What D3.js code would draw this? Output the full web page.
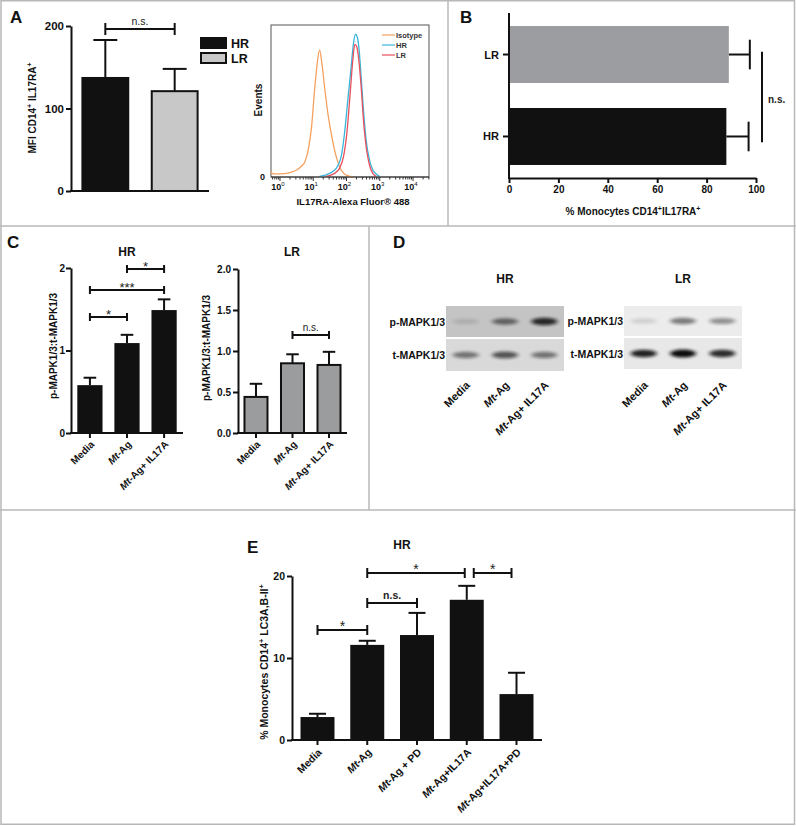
<!DOCTYPE html>
<html><head><meta charset="utf-8">
<script src="https://cdn.jsdelivr.net/npm/d3@7"></script>
<style>body{margin:0;background:#fff}svg{display:block}text{font-family:"Liberation Sans",Arial,sans-serif}</style>
</head><body>
<svg id="c" width="796" height="826"></svg>
<script>
// ---------------- DATA ----------------
// Panel A: MFI CD14+ IL17RA+
const aGroups = ["HR", "LR"];
const aMean = [137, 121];
const aErrTop = [183, 148];
const aTicks = [0, 100, 200];
// Panel A histogram (log10 fluorescence, % of max events)
const histTicks = [0, 1, 2, 3, 4];
const isoL = [-0.28,-0.2,0,0.3,0.5,0.65,0.75,0.85,0.95,1.04,1.12,1.19,1.26,1.34,1.44,1.54,1.64,1.79,1.99,2.19];
const isoC = [3.5,2.0,2.0,2.9,4.6,7.2,10.1,17.8,33.1,57.2,74.8,83.6,74.8,59.4,41.9,28.7,17.8,6.8,1.3,0];
const hrL = [1.19,1.49,1.69,1.84,1.94,2.04,2.14,2.21,2.27,2.32,2.37,2.44,2.51,2.59,2.69,2.79,2.89,2.99];
const hrC = [0.4,2.4,5.7,13.4,28.7,50.7,72.6,88.0,93.9,92.3,85.7,66.0,44.1,24.3,11.2,4.6,2.0,0.4];
const lrL = [1.39,1.64,1.79,1.91,2.01,2.11,2.19,2.25,2.31,2.37,2.44,2.51,2.59,2.69,2.79,2.89];
const lrC = [0.4,2.4,5.7,13.4,28.7,55.0,77.0,87.3,85.7,77.0,59.4,37.5,19.9,7.9,2.4,0.4];
const histSeries = ["Isotype", "HR", "LR"];
// Panel B: % Monocytes CD14+IL17RA+
const bGroups = ["LR", "HR"];
const bMean = [89, 88];
const bErrTop = [97.5, 97];
const bTicks = [0, 20, 40, 60, 80, 100];
// Panel C: p-MAPK1/3 : t-MAPK1/3
const cCats = ["Media", "Mt-Ag", "Mt-Ag+ IL17A"];
const cHRMean = [0.58, 1.09, 1.49];
const cHRErr = [0.67, 1.19, 1.62];
const cHRTicks = [0, 1, 2];
const cLRMean = [0.44, 0.85, 0.83];
const cLRErr = [0.60, 0.96, 0.99];
const cLRTicks = [0, 0.5, 1.0, 1.5, 2.0];
// Panel D: western blot band intensities (0-1)
const dLanes = ["Media", "Mt-Ag", "Mt-Ag+ IL17A"];
const dHRp = [0.12, 0.55, 0.85];
const dHRt = [0.5, 0.65, 0.5];
const dLRp = [0.12, 0.5, 0.4];
const dLRt = [0.9, 1.0, 0.85];
// Panel E: % Monocytes CD14+ LC3A,B-II+
const eCats = ["Media", "Mt-Ag", "Mt-Ag + PD", "Mt-Ag+IL17A", "Mt-Ag+IL17A+PD"];
const eMean = [2.8, 11.6, 12.8, 17.1, 5.6];
const eErr = [3.2, 12.1, 15.5, 18.8, 8.2];
const eTicks = [0, 10, 20];

// ---------------- DRAW ----------------
const svg = d3.select("#c");
const INK = "#111";

// frame lines
const fr = svg.append("g").attr("stroke", "#b8b8b8").attr("stroke-width", 1.5).attr("fill", "none");
fr.append("rect").attr("x", 1).attr("y", 0.75).attr("width", 793.5).attr("height", 823.5);
[[448,0,448,226],[0,226,796,226],[369,226,369,510],[0,510,796,510]].forEach(l =>
  fr.append("line").attr("x1", l[0]).attr("y1", l[1]).attr("x2", l[2]).attr("y2", l[3]));

function txt(x, y, s, size, weight, anchor) {
  return svg.append("text").attr("x", x).attr("y", y).text(s)
    .attr("font-size", size).attr("font-weight", weight || "bold")
    .attr("text-anchor", anchor || "start").attr("fill", INK);
}
// panel letters
[["A",10,23],["B",460,23],["C",7,248],["D",393,248],["E",247,553]].forEach(p => txt(p[1], p[2], p[0], 17, "bold"));

function mtLabel(t, label) {
  if (label.startsWith("Mt")) {
    t.append("tspan").attr("font-style", "italic").text("Mt");
    t.append("tspan").text(label.slice(2));
  } else t.text(label);
}
function styleAxis(sel, fs) {
  sel.select(".domain").attr("stroke", INK).attr("stroke-width", 2);
  sel.selectAll(".tick line").attr("stroke", INK).attr("stroke-width", 2);
  sel.selectAll(".tick text").attr("font-size", fs).attr("font-weight", "bold").attr("fill", INK)
    .attr("font-family", '"Liberation Sans", Arial, sans-serif');
}
function supLabel(g, parts, size) {
  const t = g.append("text").attr("font-size", size).attr("font-weight", "bold").attr("fill", INK).attr("text-anchor", "middle");
  let up = false;
  parts.forEach(p => {
    const ts = t.append("tspan").text(p[0]);
    if (p[1] && !up) { ts.attr("dy", -size * 0.4).attr("font-size", size * 0.7); up = true; }
    else if (p[1]) { ts.attr("font-size", size * 0.7); }
    else if (!p[1] && up) { ts.attr("dy", size * 0.4); up = false; }
  });
  return t;
}

function vbars(o) {
  const g = svg.append("g");
  const x = d3.scaleBand().domain(o.cats).range(o.xr).paddingInner(o.pi).paddingOuter(o.po);
  const y = d3.scaleLinear().domain(o.yd).range(o.yr);
  const bw = x.bandwidth();
  o.cats.forEach((c, i) => {
    const cx = x(c) + bw / 2;
    g.append("line").attr("x1", cx).attr("x2", cx).attr("y1", y(o.mean[i])).attr("y2", y(o.err[i]))
      .attr("stroke", INK).attr("stroke-width", 2);
    g.append("line").attr("x1", cx - bw * 0.25).attr("x2", cx + bw * 0.25).attr("y1", y(o.err[i])).attr("y2", y(o.err[i]))
      .attr("stroke", INK).attr("stroke-width", 2);
  });
  g.selectAll(null).data(o.cats).join("rect")
    .attr("x", d => x(d) + (o.stroke ? 1 : 0)).attr("width", bw - (o.stroke ? 2 : 0))
    .attr("y", (d, i) => y(o.mean[i])).attr("height", (d, i) => y(0) - y(o.mean[i]))
    .attr("fill", (d, i) => o.fill[i]).attr("stroke", o.stroke ? INK : "none").attr("stroke-width", 2);
  const ya = g.append("g").attr("transform", `translate(${o.xr[0]},0)`)
    .call(d3.axisLeft(y).tickValues(o.ticks).tickFormat(o.fmt || d3.format("d")).tickSize(5).tickSizeOuter(0).tickPadding(o.tp != null ? o.tp : 2));
  styleAxis(ya, o.tfs || 10.5);
  g.append("line").attr("x1", o.xr[0] - 1).attr("x2", o.xr[1]).attr("y1", y(0)).attr("y2", y(0))
    .attr("stroke", INK).attr("stroke-width", 2);
  if (o.xticks) o.cats.forEach(c => {
    const cx = x(c) + bw / 2;
    g.append("line").attr("x1", cx).attr("x2", cx).attr("y1", y(0)).attr("y2", y(0) + 5).attr("stroke", INK).attr("stroke-width", 2);
  });
  if (o.xlabels) o.cats.forEach(c => {
    const cx = x(c) + bw / 2;
    const t = g.append("text").attr("text-anchor", "end").attr("font-size", o.xfs || 10).attr("font-weight", "bold").attr("fill", INK)
      .attr("transform", `translate(${cx + o.xlo[0]},${y(0) + o.xlo[1]}) rotate(-45)`);
    mtLabel(t, c);
  });
  return { g, x, y, bw };
}
function bracket(g, x1, x2, yy, cap, label, fs, weight, dy) {
  g.append("line").attr("x1", x1).attr("x2", x2).attr("y1", yy).attr("y2", yy).attr("stroke", INK).attr("stroke-width", 2);
  [x1, x2].forEach(xx => g.append("line").attr("x1", xx).attr("x2", xx).attr("y1", yy - cap).attr("y2", yy + cap).attr("stroke", INK).attr("stroke-width", 2));
  g.append("text").attr("x", (x1 + x2) / 2).attr("y", yy + dy).attr("text-anchor", "middle")
    .attr("font-size", fs).attr("font-weight", weight).attr("fill", "#222").text(label);
}

// ---- Panel A bars ----
const A = vbars({cats: aGroups, mean: aMean, err: aErrTop, xr: [71, 209], pi: 0.31, po: 0.15,
  yd: [0, 200], yr: [191, 26], ticks: aTicks, fill: [INK, "#c8c8c8"], stroke: true, tfs: 11.5});
{
  const cx = g => A.x(g) + A.bw / 2;
  bracket(A.g, cx("HR"), cx("LR"), 29, 6, "n.s.", 10.5, "normal", -4);
  aGroups.forEach((gname, i) => {
    const yy = 37 + i * 15;
    A.g.append("rect").attr("x", 201).attr("y", yy + 1).attr("width", 25).attr("height", 10)
      .attr("fill", i === 0 ? INK : "#c8c8c8").attr("stroke", INK).attr("stroke-width", 2);
    A.g.append("text").attr("x", 231).attr("y", yy + 11).attr("font-size", 12.5).attr("font-weight", "bold").attr("fill", INK).text(gname);
  });
  const yl = supLabel(A.g, [["MFI CD14", 0], ["+", 1], [" IL17RA", 0], ["+", 1]], 10);
  yl.attr("transform", "translate(36,108) rotate(-90)");
}

// ---- Panel A histogram ----
{
  const g = svg.append("g");
  const x = d3.scaleLinear().domain([-0.27, 4.48]).range([271, 429]);
  const y = d3.scaleLinear().domain([0, 100]).range([177, 25]);
  g.append("rect").attr("x", 271).attr("y", 25).attr("width", 158).attr("height", 152)
    .attr("fill", "none").attr("stroke", "#555").attr("stroke-width", 1);
  const cols = {"Isotype": "#f4a160", "HR": "#38b6d9", "LR": "#e8505e"};
  const sets = [[isoL, isoC, "Isotype"], [hrL, hrC, "HR"], [lrL, lrC, "LR"]];
  const line = d3.line().x(d => x(d[0])).y(d => y(d[1])).curve(d3.curveMonotoneX);
  sets.forEach(s => {
    g.append("path").datum(s[0].map((v, i) => [v, s[1][i]])).attr("d", line)
      .attr("fill", "none").attr("stroke", cols[s[2]]).attr("stroke-width", 1.3);
  });
  g.append("line").attr("x1", 271).attr("x2", 429).attr("y1", 177).attr("y2", 177).attr("stroke", "#333").attr("stroke-width", 1.2);
  for (let k = -1; k <= 4; k++) for (let m = 1; m <= 9; m++) {
    const L = k + Math.log10(m);
    if (L < -0.27 || L > 4.48) continue;
    g.append("line").attr("x1", x(L)).attr("x2", x(L)).attr("y1", 177).attr("y2", m === 1 ? 181 : 179.5)
      .attr("stroke", "#333").attr("stroke-width", 1);
  }
  histTicks.forEach(k => {
    const t = g.append("text").attr("x", x(k) - 2).attr("y", 190).attr("text-anchor", "middle")
      .attr("font-size", 9).attr("font-weight", "bold").attr("fill", INK).text("10");
    t.append("tspan").attr("dy", -4).attr("font-size", 6).attr("font-weight", "normal").text(k);
  });
  g.append("text").attr("x", 265).attr("y", 180).attr("text-anchor", "end").attr("font-size", 9).attr("font-weight", "bold").attr("fill", INK).text("0");
  g.append("text").attr("transform", "translate(262,100) rotate(-90)").attr("text-anchor", "middle")
    .attr("font-size", 10).attr("font-weight", "bold").attr("fill", INK).text("Events");
  g.append("text").attr("x", 353).attr("y", 205).attr("text-anchor", "middle")
    .attr("font-size", 9.5).attr("font-weight", "bold").attr("fill", INK).text("IL17RA-Alexa Fluor® 488");
  histSeries.forEach((s, i) => {
    const yy = 35 + i * 10;
    g.append("line").attr("x1", 382).attr("x2", 395).attr("y1", yy).attr("y2", yy).attr("stroke", cols[s]).attr("stroke-width", 1.2);
    g.append("text").attr("x", 396).attr("y", yy + 3).attr("font-size", 7.5).attr("font-weight", "bold").attr("fill", "#333").text(s);
  });
}

// ---- Panel B ----
{
  const g = svg.append("g");
  const y = d3.scaleBand().domain(bGroups).range([13, 178]).paddingInner(0.305).paddingOuter(0.159);
  const x = d3.scaleLinear().domain([0, 100]).range([509, 756]);
  const bh = y.bandwidth();
  bGroups.forEach((gname, i) => {
    const cy = y(gname) + bh / 2;
    g.append("line").attr("x1", x(bMean[i])).attr("x2", x(bErrTop[i])).attr("y1", cy).attr("y2", cy).attr("stroke", INK).attr("stroke-width", 2);
    g.append("line").attr("x1", x(bErrTop[i])).attr("x2", x(bErrTop[i])).attr("y1", cy - bh * 0.26).attr("y2", cy + bh * 0.26).attr("stroke", INK).attr("stroke-width", 2);
  });
  g.selectAll(null).data(bGroups).join("rect").attr("x", x(0)).attr("y", d => y(d))
    .attr("width", (d, i) => x(bMean[i]) - x(0)).attr("height", bh)
    .attr("fill", (d, i) => i === 0 ? "#9b9da0" : INK);
  const xa = g.append("g").attr("transform", "translate(0,178)")
    .call(d3.axisBottom(x).tickValues(bTicks).tickSize(5).tickSizeOuter(0).tickPadding(3));
  styleAxis(xa, 10);
  g.append("line").attr("x1", 509).attr("x2", 509).attr("y1", 13).attr("y2", 179).attr("stroke", INK).attr("stroke-width", 2);
  bGroups.forEach(gname => {
    const cy = y(gname) + bh / 2;
    g.append("line").attr("x1", 503).attr("x2", 509).attr("y1", cy).attr("y2", cy).attr("stroke", INK).attr("stroke-width", 2);
    g.append("text").attr("x", 499).attr("y", cy + 4).attr("text-anchor", "end").attr("font-size", 11).attr("font-weight", "bold").attr("fill", INK).text(gname);
  });
  g.append("line").attr("x1", 762).attr("x2", 762).attr("y1", y("LR") + bh * 0.45).attr("y2", y("HR") + bh * 0.6).attr("stroke", INK).attr("stroke-width", 2);
  g.append("text").attr("x", 768).attr("y", 103).attr("font-size", 10).attr("font-weight", "bold").attr("fill", "#222").text("n.s.");
  const xl = supLabel(g, [["% Monocytes CD14", 0], ["+", 1], ["IL17RA", 0], ["+", 1]], 10);
  xl.attr("transform", "translate(633,215)");
}

// ---- Panel C HR ----
{
  const C = vbars({cats: cCats, mean: cHRMean, err: cHRErr, xr: [71, 183], pi: 0.32, po: 0.17,
    yd: [0, 2], yr: [433, 268], ticks: cHRTicks, fill: [INK, INK, INK], stroke: false,
    xticks: true, xlabels: true, xlo: [5, 12], tfs: 10, tp: 1});
  const cx = c => C.x(c) + C.bw / 2;
  bracket(C.g, cx(cCats[0]), cx(cCats[1]), 317, 4, "*", 13, "normal", 2);
  bracket(C.g, cx(cCats[0]), cx(cCats[2]), 290, 4, "***", 13, "normal", 2);
  bracket(C.g, cx(cCats[1]), cx(cCats[2]), 269, 4, "*", 13, "normal", 2);
  txt(127, 256, "HR", 12, "bold", "middle");
  C.g.append("text").attr("transform", "translate(57,346) rotate(-90)").attr("text-anchor", "middle")
    .attr("font-size", 10).attr("font-weight", "bold").attr("fill", INK).text("p-MAPK1/3:t-MAPK1/3");
}
// ---- Panel C LR ----
{
  const C = vbars({cats: cCats, mean: cLRMean, err: cLRErr, xr: [238, 347], pi: 0.315, po: 0.15,
    yd: [0, 2], yr: [433, 269], ticks: cLRTicks, fmt: d3.format(".1f"), fill: ["#9b9c9e", "#9b9c9e", "#9b9c9e"], stroke: true,
    xticks: true, xlabels: true, xlo: [5, 12], tfs: 10});
  const cx = c => C.x(c) + C.bw / 2;
  bracket(C.g, cx(cCats[1]), cx(cCats[2]), 335, 4, "n.s.", 10, "normal", -4);
  txt(292, 256, "LR", 12, "bold", "middle");
  C.g.append("text").attr("transform", "translate(210,348) rotate(-90)").attr("text-anchor", "middle")
    .attr("font-size", 10).attr("font-weight", "bold").attr("fill", INK).text("p-MAPK1/3:t-MAPK1/3");
}

// ---- Panel D (blots) ----
{
  const defs = svg.append("defs");
  defs.append("filter").attr("id", "blur").attr("x", "-50%").attr("y", "-100%").attr("width", "200%").attr("height", "300%")
    .append("feGaussianBlur").attr("stdDeviation", "2.2 1.4");
  const blots = [
    {x0: 446, x1: 564, rows: [{y0: 306, y1: 337, bg: "#c4c4c4", v: dHRp, label: "p-MAPK1/3"}, {y0: 339, y1: 371, bg: "#d9d9d9", v: dHRt, label: "t-MAPK1/3"}], title: "HR"},
    {x0: 624, x1: 742, rows: [{y0: 306, y1: 336, bg: "#ececec", v: dLRp, label: "p-MAPK1/3"}, {y0: 338, y1: 369, bg: "#e8e8e8", v: dLRt, label: "t-MAPK1/3"}], title: "LR"}
  ];
  blots.forEach(b => {
    const lx = d3.scaleBand().domain(dLanes).range([b.x0, b.x1]);
    b.rows.forEach(r => {
      svg.append("rect").attr("x", b.x0).attr("y", r.y0).attr("width", b.x1 - b.x0).attr("height", r.y1 - r.y0).attr("fill", r.bg);
      const cy = (r.y0 + r.y1) / 2;
      dLanes.forEach((l, i) => {
        svg.append("ellipse").attr("cx", lx(l) + lx.bandwidth() / 2).attr("cy", cy)
          .attr("rx", 13).attr("ry", 2.5 + r.v[i] * 1.5).attr("fill", "#111").attr("opacity", r.v[i])
          .attr("filter", "url(#blur)");
      });
      txt(b.x0 - 1, cy + 4, r.label, 10.5, "bold", "end");
    });
    dLanes.forEach(l => {
      const cx = lx(l) + lx.bandwidth() / 2;
      const t = svg.append("text").attr("text-anchor", "end").attr("font-size", 11).attr("font-weight", "bold").attr("fill", INK)
        .attr("transform", `translate(${cx + 5},${386}) rotate(-45)`);
      mtLabel(t, l);
    });
    txt((b.x0 + b.x1) / 2, 283, b.title, 12, "bold", "middle");
  });
}

// ---- Panel E ----
{
  const E = vbars({cats: eCats, mean: eMean, err: eErr, xr: [292, 542], pi: 0.317, po: 0.171,
    yd: [0, 20], yr: [740, 576], ticks: eTicks, fill: eCats.map(() => INK), stroke: false,
    xticks: true, xlabels: true, xlo: [5, 13], xfs: 10.5, tfs: 10.5});
  const cx = c => E.x(c) + E.bw / 2;
  bracket(E.g, cx(eCats[0]), cx(eCats[1]), 630, 5, "*", 14, "normal", 1);
  bracket(E.g, cx(eCats[1]), cx(eCats[2]), 603, 5, "n.s.", 10.5, "bold", -4);
  bracket(E.g, cx(eCats[1]), cx(eCats[3]) - 2, 573, 5, "*", 14, "normal", 1);
  bracket(E.g, cx(eCats[3]) + 7, cx(eCats[4]) - 5, 573, 5, "*", 14, "normal", 1);
  txt(402, 549, "HR", 12, "bold", "middle");
  const yl = supLabel(E.g, [["% Monocytes CD14", 0], ["+", 1], [" LC3A,B-II", 0], ["+", 1]], 10.5);
  yl.attr("transform", "translate(268,662) rotate(-90)");
}
</script>
</body></html>
